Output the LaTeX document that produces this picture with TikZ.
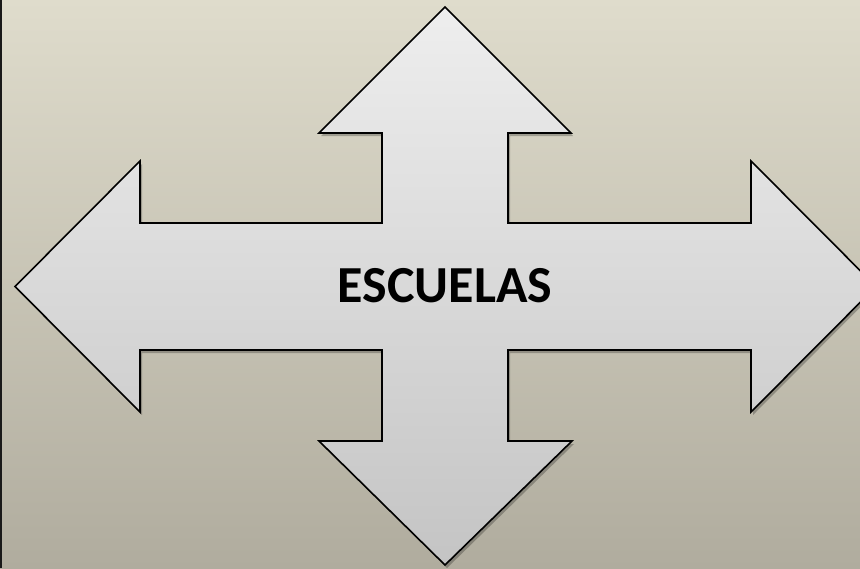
\documentclass[tikz,border=0pt]{standalone}
\usepackage{fontspec}
\setmainfont{Carlito}
\usetikzlibrary{calc}
\definecolor{bgtop}{RGB}{223,220,204}
\definecolor{bgbot}{RGB}{176,172,158}
\definecolor{arrtop}{RGB}{238,238,238}
\definecolor{arrbot}{RGB}{196,196,196}
\tikzset{
  crossarrow/.style={draw=black, line width=1.6pt, line join=miter, top color=arrtop, bottom color=arrbot},
  shadowpath/.style={fill=black, opacity=0.25},
  label/.style={font=\bfseries\fontsize{52}{62}\selectfont, text=black}
}
\begin{document}
\begin{tikzpicture}[x=1pt,y=-1pt]
\useasboundingbox (0,0) rectangle (860,568);
\shade[top color=bgtop, bottom color=bgbot] (0,0) rectangle (860,568);
\fill[black!90] (0,0) rectangle (2.2,568);
\def\crosspath{(445,7) -- (571,133) -- (508,133) -- (508,223) -- (751,223) -- (751,161) -- (876,286.5) -- (751,412) -- (751,350) -- (508,350) -- (508,441) -- (572,441) -- (445,565) -- (319,441) -- (382,441) -- (382,350) -- (140,350) -- (140,412) -- (15,286.5) -- (140,161) -- (140,223) -- (382,223) -- (382,133) -- (319,133) -- cycle}
\begin{scope}[shift={(2,3)}]
\fill[shadowpath] \crosspath;
\end{scope}
\path[crossarrow] \crosspath;
\node[label] (title) at (445,286) {ESCUELAS};
\end{tikzpicture}
\end{document}
